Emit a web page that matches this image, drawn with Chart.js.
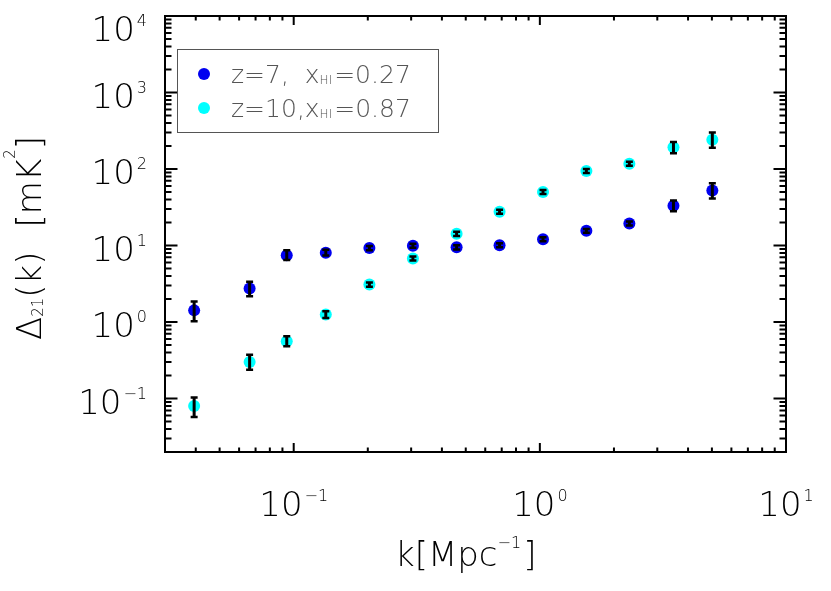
<!DOCTYPE html>
<html>
<head>
<meta charset="utf-8">
<script src="https://cdn.jsdelivr.net/npm/chart.js@4.4.1/dist/chart.umd.min.js"></script>
<style>
    html, body { margin: 0; padding: 0; background: #fff; }
    canvas { display: block; }
</style>
</head>
<body>
<canvas id="psChart" width="831" height="591"></canvas>
<script>
// ── DATA ──
const kValues = [0.0394, 0.0662, 0.0937, 0.135, 0.203, 0.305, 0.459, 0.686, 1.03, 1.545, 2.31, 3.49, 5.02];

const z7Power = [1.42, 2.75, 7.46, 8.07, 9.26, 9.94, 9.46, 10.1, 12.1, 15.6, 19.4, 33.1, 52.3];
const z7Lower = [1.02, 2.17, 6.45, 7.4, 8.7, 9.35, 8.9, 9.5, 11.4, 14.7, 18.2, 28.0, 41.2];
const z7Upper = [1.85, 3.35, 8.65, 8.8, 9.85, 10.55, 10.05, 10.7, 12.8, 16.5, 20.6, 38.9, 64.9];

const z10Power = [0.080, 0.301, 0.561, 1.25, 3.09, 6.76, 14.2, 27.7, 50.1, 94.5, 117, 192, 241];
const z10Lower = [0.0573, 0.238, 0.484, 1.13, 2.9, 6.35, 13.3, 26.0, 47.1, 88.8, 110, 161, 189];
const z10Upper = [0.1035, 0.374, 0.65, 1.38, 3.28, 7.17, 15.1, 29.4, 53.1, 100, 124, 225, 300];

const xTickExps = [-1, 0, 1];
const yTickExps = [-1, 0, 1, 2, 3, 4];

const seriesNames = ['z=7,  xHI=0.27', 'z=10,xHI=0.87'];

// ── TEXT HELPERS ──
const FONT = '"DejaVu Sans", sans-serif';
function setFont(ctx, size) { ctx.font = '200 ' + size + 'px ' + FONT; }

function runWidth(ctx, pieces) {
    let w = 0;
    pieces.forEach(p => { setFont(ctx, p.size); w += ctx.measureText(p.t).width + (p.gap || 0); });
    return w;
}

function drawRun(ctx, pieces, x, y) {
    pieces.forEach(p => {
        setFont(ctx, p.size);
        ctx.fillText(p.t, x, y + (p.dy || 0));
        x += ctx.measureText(p.t).width + (p.gap || 0);
    });
    return x;
}

function expText(e) { return e < 0 ? '\u2212' + (-e) : String(e); }

// legend text split into normal / subscript runs
function legendPieces(name) {
    const [head, tail] = name.split('xHI');
    return [
        { t: head, size: 25 },
        { t: 'x', size: 25 },
        { t: 'HI', size: 12, dy: 1, gap: 2 },
        { t: tail, size: 25 }
    ];
}

// ── ERROR BARS ──
const errorBars = {
    id: 'errorBars',
    afterDatasetsDraw(chart) {
        const ctx = chart.ctx;
        const xs = chart.scales.x, ys = chart.scales.y;
        const bounds = [[z7Lower, z7Upper], [z10Lower, z10Upper]];
        ctx.save();
        ctx.strokeStyle = '#000';
        ctx.lineCap = 'butt';
        bounds.forEach(([lo, hi]) => {
            kValues.forEach((k, i) => {
                const px = xs.getPixelForValue(k);
                const y0 = ys.getPixelForValue(lo[i]);
                const y1 = ys.getPixelForValue(hi[i]);
                ctx.lineWidth = 3;
                ctx.beginPath();
                ctx.moveTo(px, y0); ctx.lineTo(px, y1);
                ctx.stroke();
                ctx.lineWidth = 2.5;
                ctx.beginPath();
                ctx.moveTo(px - 3.5, y0); ctx.lineTo(px + 3.5, y0);
                ctx.moveTo(px - 3.5, y1); ctx.lineTo(px + 3.5, y1);
                ctx.stroke();
            });
        });
        ctx.restore();
    }
};

// ── FRAME, TICKS, LABELS, LEGEND ──
const idlAxes = {
    id: 'idlAxes',
    afterDraw(chart) {
        const ctx = chart.ctx;
        const a = chart.chartArea;
        const xs = chart.scales.x, ys = chart.scales.y;
        ctx.save();
        ctx.strokeStyle = '#000';
        ctx.fillStyle = '#000';
        ctx.lineWidth = 2;
        ctx.strokeRect(a.left, a.top, a.right - a.left, a.bottom - a.top);

        // log ticks on all four sides, pointing inward
        const logTicks = (scale) => {
            const out = [];
            for (let e = Math.floor(Math.log10(scale.min)); e <= Math.ceil(Math.log10(scale.max)); e++) {
                for (let m = 1; m <= 9; m++) {
                    const v = m * Math.pow(10, e);
                    if (v >= scale.min * 0.999 && v <= scale.max * 1.001) out.push({ v, major: m === 1 });
                }
            }
            return out;
        };
        ctx.beginPath();
        logTicks(xs).forEach(t => {
            const px = xs.getPixelForValue(t.v);
            const len = t.major ? 9 : 4.5;
            ctx.moveTo(px, a.bottom); ctx.lineTo(px, a.bottom - len);
            ctx.moveTo(px, a.top); ctx.lineTo(px, a.top + len);
        });
        logTicks(ys).forEach(t => {
            const py = ys.getPixelForValue(t.v);
            const len = t.major ? 12.5 : 6.5;
            ctx.moveTo(a.left, py); ctx.lineTo(a.left + len, py);
            ctx.moveTo(a.right, py); ctx.lineTo(a.right - len, py);
        });
        ctx.stroke();

        // tick labels
        ctx.textBaseline = 'alphabetic';
        ctx.textAlign = 'left';
        yTickExps.forEach(e => {
            const py = ys.getPixelForValue(Math.pow(10, e));
            const pieces = [{ t: '10', size: 34, gap: 2 }, { t: expText(e), size: 16, dy: -15 }];
            const base = Math.max(py + 3, 29) + 12.4;
            drawRun(ctx, pieces, 147 - runWidth(ctx, pieces), base);
        });
        xTickExps.forEach(e => {
            const px = xs.getPixelForValue(Math.pow(10, e));
            const pieces = [{ t: '10', size: 34, gap: 2 }, { t: expText(e), size: 16, dy: -15 }];
            drawRun(ctx, pieces, px - runWidth(ctx, pieces) / 2, 516);
        });

        // axis titles
        drawRun(ctx, [
            { t: 'k[Mpc', size: 34 },
            { t: '\u22121', size: 16, dy: -18, gap: 2 },
            { t: ']', size: 34 }
        ], 395, 566);

        ctx.save();
        ctx.translate(41, 340);
        ctx.rotate(-Math.PI / 2);
        drawRun(ctx, [
            { t: '\u0394', size: 34 },
            { t: '21', size: 15, dy: 2 },
            { t: '(k)', size: 34, gap: 24 },
            { t: '[mK', size: 34 },
            { t: '2', size: 15, dy: -26 },
            { t: ']', size: 34 }
        ], 0, 0);
        ctx.restore();

        // legend
        ctx.lineWidth = 1;
        ctx.strokeStyle = '#555';
        ctx.strokeRect(177.5, 49.5, 261, 83);
        const colors = chart.data.datasets.map(d => d.backgroundColor);
        const rows = [74, 108];
        seriesNames.forEach((name, i) => {
            ctx.fillStyle = colors[i];
            ctx.beginPath();
            ctx.arc(204, rows[i], 6, 0, Math.PI * 2);
            ctx.fill();
            ctx.fillStyle = '#555';
            drawRun(ctx, legendPieces(name), 231, rows[i] + 9);
        });
        ctx.restore();
    }
};

// ── CHART SETUP ──
const ctx = document.getElementById('psChart').getContext('2d');
const psChart = new Chart(ctx, {
    type: 'scatter',
    data: {
        datasets: [
            {
                label: seriesNames[0],
                data: kValues.map((k, i) => ({ x: k, y: z7Power[i] })),
                backgroundColor: '#0000f0',
                borderWidth: 0,
                pointRadius: 6
            },
            {
                label: seriesNames[1],
                data: kValues.map((k, i) => ({ x: k, y: z10Power[i] })),
                backgroundColor: '#00ffff',
                borderWidth: 0,
                pointRadius: 6
            }
        ]
    },
    options: {
        responsive: false,
        animation: false,
        devicePixelRatio: 1,
        layout: { padding: { left: 157, right: 45, top: 16, bottom: 131 } },
        plugins: {
            legend: { display: false },
            tooltip: { enabled: false }
        },
        scales: {
            x: {
                type: 'logarithmic', min: 0.03, max: 10,
                ticks: { display: false },
                grid: { display: false },
                border: { display: false }
            },
            y: {
                type: 'logarithmic', min: 0.02, max: 10000,
                ticks: { display: false },
                grid: { display: false },
                border: { display: false }
            }
        }
    },
    plugins: [errorBars, idlAxes]
});
</script>
</body>
</html>
